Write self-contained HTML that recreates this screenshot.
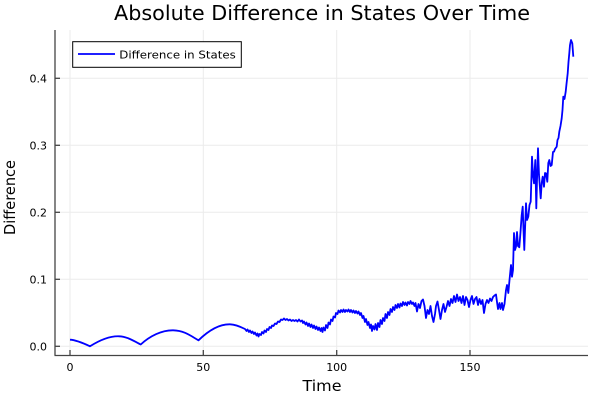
<!DOCTYPE html>
<html><head><meta charset="utf-8"><style>
html,body{margin:0;padding:0;background:#fff;}
svg{display:block;}
text{font-family:"DejaVu Sans","Liberation Sans",sans-serif;fill:#000;}
</style></head><body>
<svg width="600" height="400" viewBox="0 0 600 400" xmlns="http://www.w3.org/2000/svg">
<rect width="600" height="400" fill="#fff"/>
<g stroke="#ebebeb" stroke-width="1">
<line x1="70" y1="30" x2="70" y2="355"/>
<line x1="203.3" y1="30" x2="203.3" y2="355"/>
<line x1="336.7" y1="30" x2="336.7" y2="355"/>
<line x1="470" y1="30" x2="470" y2="355"/>
<line x1="55" y1="346.3" x2="588" y2="346.3"/>
<line x1="55" y1="279.3" x2="588" y2="279.3"/>
<line x1="55" y1="212.3" x2="588" y2="212.3"/>
<line x1="55" y1="145.3" x2="588" y2="145.3"/>
<line x1="55" y1="78.3" x2="588" y2="78.3"/>
</g>
<g stroke="#444" stroke-width="1.3" fill="none">
<line x1="55" y1="30" x2="55" y2="355.5"/>
<line x1="54.5" y1="355.5" x2="588" y2="355.5"/>
<line x1="55" y1="346.3" x2="60" y2="346.3"/>
<line x1="55" y1="279.3" x2="60" y2="279.3"/>
<line x1="55" y1="212.3" x2="60" y2="212.3"/>
<line x1="55" y1="145.3" x2="60" y2="145.3"/>
<line x1="55" y1="78.3" x2="60" y2="78.3"/>
<line x1="70" y1="355" x2="70" y2="350"/>
<line x1="203.3" y1="355" x2="203.3" y2="350"/>
<line x1="336.7" y1="355" x2="336.7" y2="350"/>
<line x1="470" y1="355" x2="470" y2="350"/>
</g>
<g font-size="11" text-anchor="end">
<text x="47" y="350.3">0.0</text>
<text x="47" y="283.3">0.1</text>
<text x="47" y="216.3">0.2</text>
<text x="47" y="149.3">0.3</text>
<text x="47" y="82.3">0.4</text>
</g>
<g font-size="11" text-anchor="middle">
<text x="70" y="371">0</text>
<text x="203.3" y="371">50</text>
<text x="336.7" y="371">100</text>
<text x="470" y="371">150</text>
</g>
<text x="322" y="20" font-size="20" text-anchor="middle" textLength="416" lengthAdjust="spacingAndGlyphs">Absolute Difference in States Over Time</text>
<text x="322" y="391" font-size="15" text-anchor="middle" textLength="39" lengthAdjust="spacingAndGlyphs">Time</text>
<text transform="translate(15,197.5) rotate(-90)" font-size="15" text-anchor="middle" textLength="75" lengthAdjust="spacingAndGlyphs">Difference</text>
<path fill="none" stroke="#0000ff" stroke-width="1.8" stroke-linejoin="round" d="M70,339.7 C76,340 83,343 90,346.3 C100,340 110,336 119,336.3 C127,336.5 134,341 140.7,344.5 C150,336 162,330 173.3,330.3 C184,330.5 191,336 198.5,340.3 C207,332 218,324 230,324.3 C236,324.5 241,327 245,329
L246.5,331 L247.5,329.5 L249,332 L250,330.5 L251.5,333 L252.5,331.5 L254,334 L255,332.5 L256.5,335.5 L257.5,333.5 L258.5,336.5 L259.5,334 L261,335 L262,332 L263.5,333.5 L264.5,330.5 L266,332 L267,329 L268.5,330 L269.5,327 L271,328 L272,325.5 L273.5,326 L275,323.5 L276.5,324 L278,321.5 L279.5,322 L281,319.5 L282.5,320 L284,318.5 L285.5,320 L287,319 L288.5,320.5 L290,319.5 L291.5,321 L293,320 L294.5,321 L296,320 L297.5,321.5 L299,319.5 L300.5,321.5 L302,320.5 L303,323 L304,321.5 L305.5,324.5 L306.5,322.5 L308,326 L309,323.5 L310.5,327 L311.5,324.5 L313,328 L314,325.5 L315.5,329 L316.5,326.5 L318,330 L319,327.5 L320.5,331 L321.5,328 L322.5,332 L323.5,327.5 L325,330.5 L326,325 L327.5,328 L328.5,322.5 L330,324.5 L331,319.5 L332.5,321 L333.5,316.5 L335,317.5 L336,313 L337.5,314 L338.5,310.5 L340,312.5 L341,310 L342.5,312 L343.5,309.5 L345,312 L346,310 L347.5,311.5 L348.5,309.5 L350,312 L351,310 L352.5,312.5 L353.5,310.5 L355,313 L356,311 L357.5,313.5 L358.5,311.5 L360,315 L361,313 L362.5,318 L363.5,316 L365,322 L366,319 L367.5,325 L368.5,322 L370,328 L371,324.5 L372,331 L373,326 L374.5,329.5 L375.5,324 L377,330 L378,323 L379.5,327 L380.5,320 L382,324 L383,318 L384.5,321 L385.5,314 L387,318 L388,312 L389.5,315 L390.5,309 L392,312 L393,307 L394.5,310 L395.5,305 L397,308 L398,304 L399.5,307.5 L400.5,303.5 L402,306 L403,302 L404.5,305 L405.5,302.5 L407,305.5 L408,302 L409.5,304 L410.5,301 L412,304 L413,302.5 L414.5,306 L415.5,303 L417,311.5 L418.5,304 L420,308 L421.5,301 L423,299.5 L424.5,306 L426,318 L427.5,310 L429,314 L430.5,306 L432,316 L433.5,322 L435,314 L436,306 L437.5,301.5 L439,310 L440.5,319 L442,310 L443.5,304 L445,312 L446.5,307 L448,301 L449.5,306 L451,299 L452.5,303 L454,296 L455.5,302 L457,294.5 L458.5,301 L460,297 L461.5,303 L463,296 L464.5,305 L466,297 L467.5,300 L469,307 L470.5,300 L472,296 L473.5,304 L475,299 L476.5,297 L478,305 L479.5,299 L481,304 L482.5,300 L484,313 L485.5,304 L487,300 L488.5,303 L490,298.5 L491.5,301 L493,297 L494.5,295.5 L496,294.5 L497,302 L498,309 L499.5,303 L500.5,309 L502,303 L503,310 L504.5,304 L506,290 L507,285 L508.3,293 L509.5,280 L511,265 L512,276.7 L513,270 L514,233 L515,250 L516,246.7 L517,232 L518,246 L519.3,247.3 L520.5,232 L521.7,215 L522.7,206.7 L523.5,230 L524.3,250 L525,230 L526,203.3 L527,220 L528.3,216.7 L529.5,205 L530.7,201.7 L531.5,175 L532,156.7 L533,175 L534,183.3 L535,165 L535.3,160 L536.3,208.3 L537,180 L538,148.3 L539,175 L540.7,198.3 L541.7,183 L542.7,176.7 L544,186.7 L545,173 L546,173.3 L547.3,181.7 L548.3,163 L549.3,160 L550.5,166 L551.7,165 L553,152 L554,151.7 L555,149 L556.7,146.7 L557.5,140 L558.5,138 L559.3,131.7 L560.5,126 L561.7,118.3 L562.5,110 L563.3,96.7 L564.5,99 L565.7,91.7 L566.5,84 L567.7,73.3 L568.5,62 L569.3,53.3 L570,45 L571,40 L572.3,43.3 L573.3,56.7"/>
<rect x="72.7" y="41.7" width="168.6" height="25.6" fill="#fff" stroke="#000" stroke-width="1"/>
<line x1="78" y1="54" x2="115" y2="54" stroke="#0000ff" stroke-width="1.8"/>
<text x="119.3" y="58.5" font-size="11" textLength="116.5" lengthAdjust="spacingAndGlyphs">Difference in States</text>
</svg>
</body></html>
